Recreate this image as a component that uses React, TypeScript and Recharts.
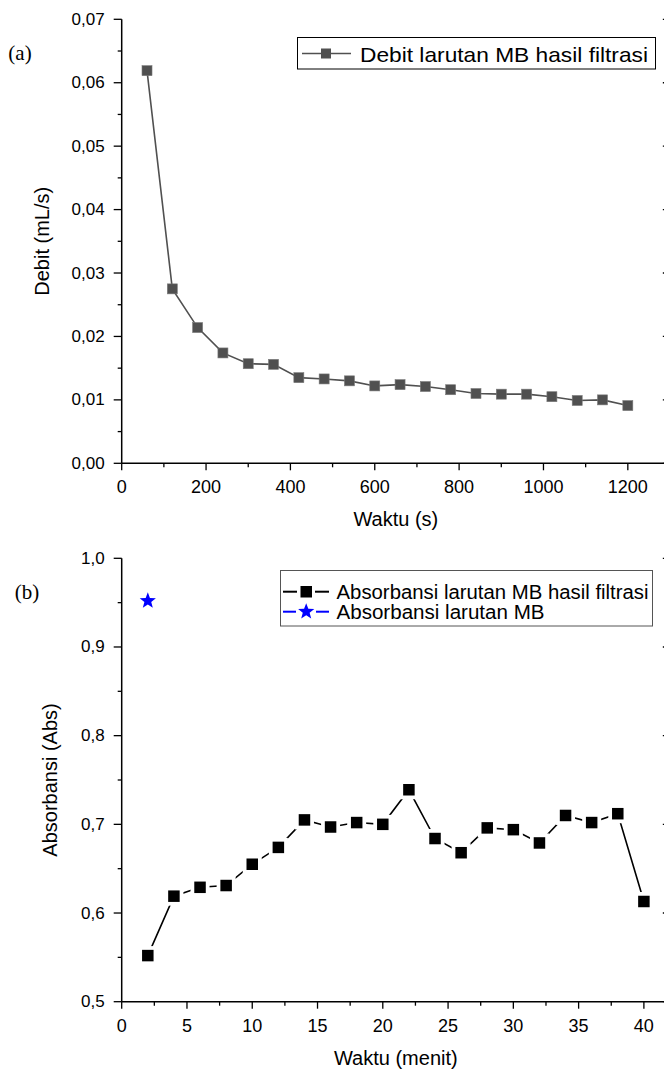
import { LineChart, Line, XAxis, YAxis, ReferenceLine } from "recharts";

// (a) debit of filtered MB solution
const debitTime = [60, 120, 180, 240, 300, 360, 420, 480, 540, 600, 660, 720, 780, 840, 900, 960, 1020, 1080, 1140, 1200];
const debitValues = [0.0619, 0.0275, 0.0214, 0.0174, 0.0157, 0.0156, 0.0135, 0.0133, 0.013, 0.0122, 0.0124, 0.0121, 0.0116, 0.011, 0.0109, 0.0109, 0.0105, 0.0099, 0.01, 0.0091];

// (b) absorbance
const absTime = [2, 4, 6, 8, 10, 12, 14, 16, 18, 20, 22, 24, 26, 28, 30, 32, 34, 36, 38, 40];
const absValues = [0.552, 0.619, 0.629, 0.631, 0.655, 0.674, 0.705, 0.697, 0.702, 0.7, 0.739, 0.684, 0.668, 0.696, 0.694, 0.679, 0.71, 0.702, 0.712, 0.613];
const mbTime = [2];
const mbValues = [0.952];

// ticks
const debitXMajor = [0, 200, 400, 600, 800, 1000, 1200];
const debitXMinor = [100, 300, 500, 700, 900, 1100, 1300];
const debitYMajor = [0, 0.01, 0.02, 0.03, 0.04, 0.05, 0.06, 0.07];
const debitYMinor = [0.005, 0.015, 0.025, 0.035, 0.045, 0.055, 0.065];
const absXMajor = [0, 5, 10, 15, 20, 25, 30, 35, 40];
const absXMinor = [2.5, 7.5, 12.5, 17.5, 22.5, 27.5, 32.5, 37.5];
const absYMajor = [0.5, 0.6, 0.7, 0.8, 0.9, 1.0];
const absYMinor = [0.55, 0.65, 0.75, 0.85, 0.95];

const debitData = debitTime.map((t, i) => ({ t, v: debitValues[i] }));
const absData = absTime.map((t, i) => ({ t, v: absValues[i] }));
const mbData = mbTime.map((t, i) => ({ t, v: mbValues[i] }));

const FONT = "'Liberation Sans', Arial, sans-serif";
const SERIF = "'Liberation Serif', 'Times New Roman', serif";
const comma = (v: number, d: number) => v.toFixed(d).replace(".", ",");

const bottomTick = (majors: number[], d: number) => (p: any) => {
  const major = majors.includes(p.payload.value);
  return (
    <g>
      <line x1={p.x} x2={p.x} y1={p.y} y2={p.y + (major ? 7 : 4)} stroke="#000" strokeWidth={1.3} />
      {major && (
        <text x={p.x} y={p.y + 24} textAnchor="middle" dominantBaseline="central" fontSize={18} fontFamily={FONT} fill="#000">
          {comma(p.payload.value, d)}
        </text>
      )}
    </g>
  );
};

const topTick = (majors: number[]) => (p: any) => {
  const major = majors.includes(p.payload.value);
  return <line x1={p.x} x2={p.x} y1={p.y} y2={p.y + (major ? 6 : 4)} stroke="#000" strokeWidth={1.3} />;
};

const leftTick = (majors: number[], d: number) => (p: any) => {
  const major = majors.includes(p.payload.value);
  return (
    <g>
      <line x1={p.x - (major ? 8 : 4)} x2={p.x} y1={p.y} y2={p.y} stroke="#000" strokeWidth={1.3} />
      {major && (
        <text x={p.x - 17} y={p.y} textAnchor="end" dominantBaseline="central" fontSize={17} fontFamily={FONT} fill="#000">
          {comma(p.payload.value, d)}
        </text>
      )}
    </g>
  );
};

const xTitle = (text: string, dy: number) => ({
  content: ({ viewBox }: any) => (
    <text x={viewBox.x + viewBox.width / 2} y={viewBox.y + dy} textAnchor="middle" dominantBaseline="central" fontSize={20} fontFamily={FONT} fill="#000">
      {text}
    </text>
  ),
});

const yTitle = (text: string, cx: number) => ({
  content: ({ viewBox }: any) => {
    const cy = viewBox.y + viewBox.height / 2;
    return (
      <text x={cx} y={cy} transform={`rotate(-90, ${cx}, ${cy})`} textAnchor="middle" dominantBaseline="central" fontSize={20} fontFamily={FONT} fill="#000">
        {text}
      </text>
    );
  },
});

const grayDot = (p: any) => (
  <rect key={`g${p.index}`} x={p.cx - 5} y={p.cy - 5} width={10} height={10} fill="#505050" stroke="#7a7a7a" strokeWidth={0.6} />
);

const blackDot = (p: any) => (
  <g key={`b${p.index}`}>
    <rect x={p.cx - 9.5} y={p.cy - 9.5} width={19} height={19} fill="#fff" />
    <rect x={p.cx - 5.75} y={p.cy - 5.75} width={11.5} height={11.5} fill="#000" />
  </g>
);

const starPoints = (cx: number, cy: number, R: number, r: number) => {
  const pts: string[] = [];
  for (let i = 0; i < 10; i++) {
    const rad = i % 2 === 0 ? R : r;
    const a = -Math.PI / 2 + (i * Math.PI) / 5;
    pts.push(`${cx + rad * Math.cos(a)},${cy + rad * Math.sin(a)}`);
  }
  return pts.join(" ");
};

const blueStar = (p: any) => <polygon key={`s${p.index}`} points={starPoints(p.cx, p.cy, 8.5, 3.6)} fill="#0000ff" />;

const axisLine = { stroke: "#000", strokeWidth: 1.5 };
const overlay: any = { position: "absolute", left: 0, top: 0, pointerEvents: "none" };

// inward tick marks on the right frame (frame itself sits just past the page edge)
const rightTicks = (majors: number[], xMax: number, len: number) =>
  majors.map((v) => (
    <ReferenceLine
      key={`r${v}`}
      segment={[
        { x: xMax - len, y: v },
        { x: xMax, y: v },
      ]}
      stroke="#000"
      strokeWidth={1.3}
      ifOverflow="visible"
    />
  ));

export default function App() {
  return (
    <div style={{ position: "absolute", left: 0, top: 0, width: 664, height: 1071, overflow: "hidden", background: "#fff" }}>
      <div style={{ position: "relative", width: 680, height: 530 }}>
        <LineChart width={680} height={530} margin={{ top: 19.3, right: 10, left: 0, bottom: 0 }}>
          <XAxis
            dataKey="t"
            type="number"
            domain={[0, 1300]}
            ticks={[...debitXMajor, ...debitXMinor]}
            interval={0}
            height={66.7}
            tickSize={0}
            tickMargin={0}
            tickLine={false}
            axisLine={axisLine}
            tick={bottomTick(debitXMajor, 0)}
            label={xTitle("Waktu (s)", 56)}
          />
          <XAxis
            xAxisId="top"
            orientation="top"
            type="number"
            domain={[0, 1300]}
            ticks={[...debitXMajor, ...debitXMinor]}
            interval={0}
            height={0}
            tickSize={0}
            tickMargin={0}
            tickLine={false}
            axisLine={axisLine}
            tick={topTick(debitXMajor)}
          />
          <YAxis
            type="number"
            domain={[0, 0.07]}
            ticks={[...debitYMajor, ...debitYMinor]}
            interval={0}
            width={121.7}
            tickSize={0}
            tickMargin={0}
            tickLine={false}
            axisLine={axisLine}
            tick={leftTick(debitYMajor, 2)}
            label={yTitle("Debit (mL/s)", 42)}
          />
          {rightTicks(debitYMajor, 1300, 17)}
          <Line data={debitData} dataKey="v" stroke="#505050" strokeWidth={1.6} dot={grayDot} activeDot={false} isAnimationActive={false} />
        </LineChart>
        <svg width={680} height={530} style={overlay}>
          <text x={20} y={53} textAnchor="middle" dominantBaseline="central" fontSize={21} fontFamily={SERIF} fill="#000">
            (a)
          </text>
          <rect x={297.5} y={37.5} width={358} height={31.5} fill="#fff" stroke="#000" strokeWidth={1} />
          <line x1={302} x2={351} y1={53.5} y2={53.5} stroke="#505050" strokeWidth={1.6} />
          <rect x={321} y={48.5} width={10} height={10} fill="#505050" />
          <text x={360} y={54} dominantBaseline="central" fontSize={21} fontFamily={FONT} fill="#000" textLength={288} lengthAdjust="spacingAndGlyphs">
            Debit larutan MB hasil filtrasi
          </text>
        </svg>
      </div>

      <div style={{ position: "relative", width: 680, height: 541 }}>
        <LineChart width={680} height={541} margin={{ top: 28.3, right: 10, left: 0, bottom: 0 }}>
          <XAxis
            dataKey="t"
            type="number"
            domain={[0, 42]}
            ticks={[...absXMajor, ...absXMinor]}
            interval={0}
            height={69.3}
            tickSize={0}
            tickMargin={0}
            tickLine={false}
            axisLine={axisLine}
            tick={bottomTick(absXMajor, 0)}
            label={xTitle("Waktu (menit)", 56)}
          />
          <XAxis
            xAxisId="top"
            orientation="top"
            type="number"
            domain={[0, 42]}
            ticks={[...absXMajor, ...absXMinor]}
            interval={0}
            height={0}
            tickSize={0}
            tickMargin={0}
            tickLine={false}
            axisLine={axisLine}
            tick={topTick(absXMajor)}
          />
          <YAxis
            type="number"
            domain={[0.5, 1.0]}
            ticks={[...absYMajor, ...absYMinor]}
            interval={0}
            width={121.7}
            tickSize={0}
            tickMargin={0}
            tickLine={false}
            axisLine={axisLine}
            tick={leftTick(absYMajor, 1)}
            label={yTitle("Absorbansi (Abs)", 50)}
          />
          {rightTicks(absYMajor, 42, 0.55)}
          <Line data={absData} dataKey="v" stroke="#000" strokeWidth={1.6} dot={blackDot} activeDot={false} isAnimationActive={false} />
          <Line data={mbData} dataKey="v" stroke="#0000ff" strokeWidth={1.6} dot={blueStar} activeDot={false} isAnimationActive={false} />
        </LineChart>
        <svg width={680} height={541} style={overlay}>
          <text x={27} y={62} textAnchor="middle" dominantBaseline="central" fontSize={21} fontFamily={SERIF} fill="#000">
            (b)
          </text>
          <rect x={280.5} y={40.5} width={372} height={55.5} fill="#fff" stroke="#555" strokeWidth={1} />
          <line x1={283} x2={297} y1={61.7} y2={61.7} stroke="#000" strokeWidth={2} />
          <line x1={315} x2={329} y1={61.7} y2={61.7} stroke="#000" strokeWidth={2} />
          <rect x={300.5} y={56} width={11.5} height={11.5} fill="#000" />
          <text x={336.5} y={62} dominantBaseline="central" fontSize={20} fontFamily={FONT} fill="#000" textLength={312} lengthAdjust="spacingAndGlyphs">
            Absorbansi larutan MB hasil filtrasi
          </text>
          <line x1={283} x2={296} y1={81.7} y2={81.7} stroke="#0000ff" strokeWidth={2} />
          <line x1={316} x2={329} y1={81.7} y2={81.7} stroke="#0000ff" strokeWidth={2} />
          <polygon points={starPoints(306.2, 81.7, 8.5, 3.6)} fill="#0000ff" />
          <text x={336.5} y={82} dominantBaseline="central" fontSize={20} fontFamily={FONT} fill="#000" textLength={208} lengthAdjust="spacingAndGlyphs">
            Absorbansi larutan MB
          </text>
        </svg>
      </div>
    </div>
  );
}
